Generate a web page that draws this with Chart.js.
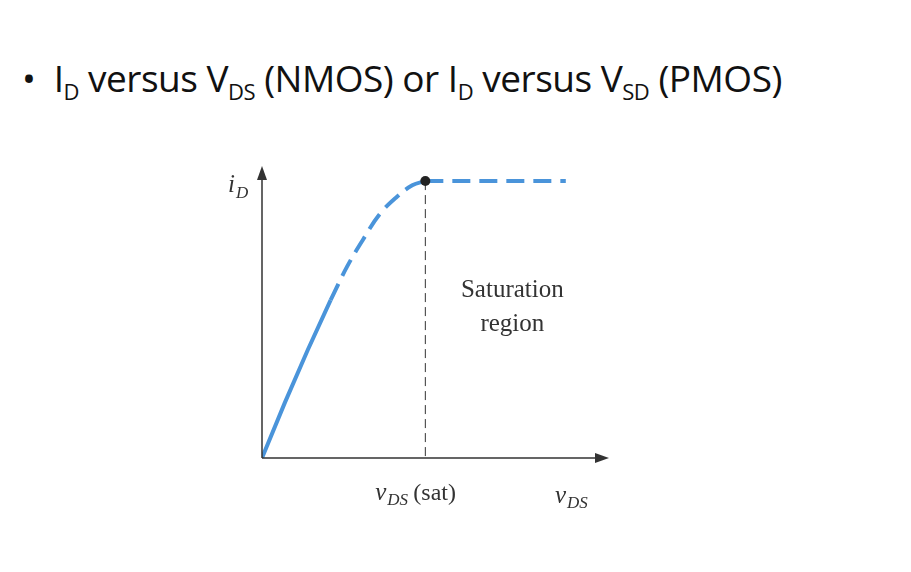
<!DOCTYPE html>
<html>
<head>
<meta charset="utf-8">
<script src="https://cdn.jsdelivr.net/npm/chart.js@4/dist/chart.umd.min.js"></script>
<style>
  body { margin: 0; background: #fff; }
  #wrap { position: relative; width: 911px; height: 572px; }
  #title { position: absolute; left: 22px; top: 52px; font-family: "Open Sans", sans-serif; font-size: 37px; letter-spacing: -0.5px; color: #111; white-space: nowrap; }
  #title sub { font-size: 22px; }
  canvas { position: absolute; left: 0; top: 0; }
</style>
</head>
<body>
<div id="wrap">
  <div id="title">•&nbsp; I<sub>D</sub> versus V<sub>DS</sub> (NMOS) or I<sub>D</sub> versus V<sub>SD</sub> (PMOS)</div>
  <canvas id="myChart" width="911" height="572"></canvas>
</div>
<script>
// values (x: v_DS units, y: i_D units)
const linearX = [0, 0.7, 1.4, 2.1];
const linearY = [0, 2.0, 3.9, 5.7];
const bendX = [2.1, 2.6, 3.1, 3.6, 4.1, 4.6, 5];
const bendY = [5.7, 6.9, 7.9, 8.8, 9.4, 9.85, 10];
const satX = [5, 9.3];
const satY = [10, 10];
const vSat = 5;

const blue = "rgb(74,148,218)";
const toPts = (xs, ys) => xs.map((x, i) => ({ x, y: ys[i] }));

const annotate = {
  id: "annotate",
  afterDatasetsDraw(chart) {
    const { ctx, scales: { x, y } } = chart;
    const x0 = x.getPixelForValue(0), y0 = y.getPixelForValue(0);
    const xEnd = x.getPixelForValue(x.max), yTop = y.getPixelForValue(y.max);
    ctx.save();
    ctx.strokeStyle = "#333";
    ctx.fillStyle = "#333";
    ctx.lineWidth = 1.5;
    ctx.beginPath();
    ctx.moveTo(x0, y0); ctx.lineTo(xEnd, y0);
    ctx.moveTo(x0, y0); ctx.lineTo(x0, yTop);
    ctx.stroke();
    // arrow heads
    ctx.beginPath();
    ctx.moveTo(xEnd + 4, y0); ctx.lineTo(xEnd - 10, y0 - 5); ctx.lineTo(xEnd - 10, y0 + 5); ctx.fill();
    ctx.beginPath();
    ctx.moveTo(x0, yTop - 4); ctx.lineTo(x0 - 5, yTop + 10); ctx.lineTo(x0 + 5, yTop + 10); ctx.fill();
    // vertical dashed line at v_DS(sat)
    const xs = x.getPixelForValue(vSat), ys = y.getPixelForValue(satY[0]);
    ctx.lineWidth = 1;
    ctx.setLineDash([9, 5]);
    ctx.beginPath(); ctx.moveTo(xs, ys); ctx.lineTo(xs, y0); ctx.stroke();
    ctx.setLineDash([]);
    ctx.beginPath(); ctx.arc(xs, ys, 5, 0, Math.PI * 2); ctx.fillStyle = "#222"; ctx.fill();
    // labels
    ctx.fillStyle = "#333";
    ctx.textAlign = "left";
    ctx.font = "italic 25px 'Liberation Serif'";
    ctx.fillText("i", x0 - 34, yTop + 22);
    ctx.font = "italic 17px 'Liberation Serif'";
    ctx.fillText("D", x0 - 26, yTop + 28);
    ctx.font = "italic 25px 'Liberation Serif'";
    ctx.fillText("v", xs - 50, y0 + 42);
    ctx.font = "italic 17px 'Liberation Serif'";
    ctx.fillText("DS", xs - 38, y0 + 47);
    ctx.font = "24px 'Liberation Serif'";
    ctx.fillText("(sat)", xs - 12, y0 + 42);
    ctx.font = "italic 25px 'Liberation Serif'";
    ctx.fillText("v", xEnd - 50, y0 + 45);
    ctx.font = "italic 17px 'Liberation Serif'";
    ctx.fillText("DS", xEnd - 38, y0 + 50);
    ctx.textAlign = "center";
    ctx.font = "25px 'Liberation Serif'";
    ctx.fillText("Saturation", xs + 87, y.getPixelForValue(5.8));
    ctx.fillText("region", xs + 87, y.getPixelForValue(4.6));
    ctx.restore();
  }
};

const config = {
  type: "scatter",
  data: {
    datasets: [
      { data: toPts(linearX, linearY), borderColor: blue, borderWidth: 4, showLine: true, pointRadius: 0, tension: 0 },
      { data: toPts(bendX, bendY), borderColor: blue, borderWidth: 4, borderDash: [18, 9], showLine: true, pointRadius: 0, tension: 0.4 },
      { data: toPts(satX, satY), borderColor: blue, borderWidth: 4, borderDash: [18, 9], showLine: true, pointRadius: 0 },
    ],
  },
  options: {
    responsive: false,
    animation: false,
    layout: { padding: { left: 262, right: 306, top: 170, bottom: 114 } },
    plugins: { legend: { display: false }, tooltip: { enabled: false } },
    scales: {
      x: { type: "linear", min: 0, max: 10.5, display: false },
      y: { type: "linear", min: 0, max: 10.4, display: false },
    },
  },
  plugins: [annotate],
};
const myChart = new Chart(document.querySelector("#myChart"), config);
</script>
</body>
</html>
